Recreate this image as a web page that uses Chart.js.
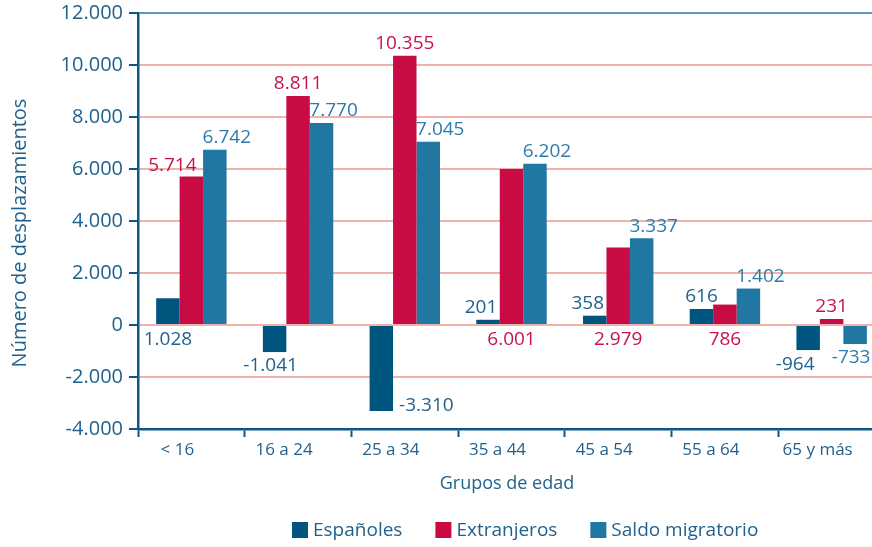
<!DOCTYPE html>
<html>
<head>
<meta charset="utf-8">
<script src="https://cdn.jsdelivr.net/npm/chart.js@4.4.0/dist/chart.umd.min.js"></script>
<style>
    html, body { margin: 0; padding: 0; overflow: hidden; background: #fff; }
    #wrap { position: relative; width: 900px; height: 547px; }
</style>
</head>
<body>
<div id="wrap"><canvas id="chart" width="900" height="547"></canvas></div>
<script>
const categories = ['< 16', '16 a 24', '25 a 34', '35 a 44', '45 a 54', '55 a 64', '65 y más'];
const espanoles = [1028, -1041, -3310, 201, 358, 616, -964];
const extranjeros = [5714, 8811, 10355, 6001, 2979, 786, 231];
const saldo = [6742, 7770, 7045, 6202, 3337, 1402, -733];
const seriesNames = ['Españoles', 'Extranjeros', 'Saldo migratorio'];
const yMin = -4000, yMax = 12000, yStep = 2000;

// where each value label sits relative to its bar
const labelPlace = [
    ['zero', 'below', 'right', 'aboveL', 'aboveL', 'above', 'belowL'],
    ['aboveLL', 'above', 'above', 'zero', 'zero', 'zero', 'above'],
    ['aboveR', 'aboveR', 'aboveR', 'aboveR', 'aboveR', 'aboveR', 'below'],
];

const FONT = "'Open Sans', sans-serif";
const axisBlue = '#0c5883';
const textBlue = '#21628d';
const barColors = ['#00557f', '#c80b43', '#1f77a2'];
const labelColors = ['#22628e', '#c8134a', '#2b7cab'];

function fmt(v) {
    const s = Math.abs(v).toString().replace(/\B(?=(\d{3})+(?!\d))/g, '.');
    return (v < 0 ? '-' : '') + s;
}

const decorPlugin = {
    id: 'decor',
    afterDatasetsDraw(chart) {
        const ctx = chart.ctx;
        const zeroY = chart.scales.y.getPixelForValue(0);
        ctx.save();
        ctx.font = '19px ' + FONT;
        ctx.textBaseline = 'middle';
        chart.data.datasets.forEach((ds, di) => {
            const meta = chart.getDatasetMeta(di);
            ctx.fillStyle = labelColors[di];
            meta.data.forEach((bar, i) => {
                const v = ds.data[i];
                const top = Math.min(bar.y, bar.base);
                const bottom = Math.max(bar.y, bar.base);
                let x = bar.x, y, align = 'center';
                switch (labelPlace[di][i]) {
                    case 'above': y = top - 12; break;
                    case 'aboveL': x -= 7; y = top - 12; break;
                    case 'aboveLL': x -= 19; y = top - 11; break;
                    case 'aboveR': x += 12; y = top - 12; break;
                    case 'zero': y = zeroY + 15; break;
                    case 'below': x -= 4; y = bottom + 14; break;
                    case 'belowL': x -= 13; y = bottom + 15; break;
                    case 'right': x = bar.x + bar.width / 2 + 6; y = bottom - 5; align = 'left'; break;
                }
                ctx.textAlign = align;
                ctx.fillText(fmt(v), x, y);
            });
        });

        // axis titles
        ctx.fillStyle = textBlue;
        ctx.textAlign = 'center';
        ctx.font = '20px ' + FONT;
        ctx.save();
        ctx.translate(20, 233);
        ctx.rotate(-Math.PI / 2);
        ctx.fillText('Número de desplazamientos', 0, 0);
        ctx.restore();
        ctx.font = '18px ' + FONT;
        ctx.fillText('Grupos de edad', 507, 484);

        // legend
        ctx.font = '19px ' + FONT;
        ctx.textAlign = 'left';
        let lx = 292;
        const ly = 530;
        seriesNames.forEach((name, i) => {
            ctx.fillStyle = barColors[i];
            ctx.fillRect(lx, ly - 8, 16, 16);
            ctx.fillStyle = textBlue;
            ctx.fillText(name, lx + 21, ly + 1);
            lx += 21 + ctx.measureText(name).width + 33;
        });
        ctx.restore();
    }
};

new Chart(document.getElementById('chart'), {
    type: 'bar',
    data: {
        labels: categories,
        datasets: [espanoles, extranjeros, saldo].map((d, i) => ({
            label: seriesNames[i],
            data: d,
            backgroundColor: barColors[i],
            borderWidth: 0,
            categoryPercentage: 0.66,
            barPercentage: 1,
        })),
    },
    options: {
        responsive: false,
        devicePixelRatio: 1,
        animation: false,
        layout: { padding: { top: 13, right: 15, left: 0, bottom: 0 } },
        plugins: { legend: { display: false }, tooltip: { enabled: false } },
        scales: {
            x: {
                afterFit: (s) => { s.height = 118; s.paddingLeft = 0; s.paddingRight = 0; },
                grid: {
                    offset: true,
                    drawOnChartArea: false,
                    drawTicks: true,
                    tickLength: 8,
                    tickColor: axisBlue,
                    tickWidth: 2,
                },
                border: { color: axisBlue, width: 2.5 },
                ticks: {
                    color: textBlue,
                    font: { family: FONT, size: 17 },
                    padding: 3,
                    labelOffset: -14,
                    maxRotation: 0,
                },
            },
            y: {
                min: yMin,
                max: yMax,
                afterFit: (s) => { s.width = 138; s.paddingTop = 0; s.paddingBottom = 0; },
                grid: {
                    color: (c) => c.tick && c.tick.value === yMax ? '#5b97bf' : '#efb2ae',
                    lineWidth: 2,
                    drawTicks: true,
                    tickLength: 9,
                    tickColor: axisBlue,
                    tickWidth: 2,
                },
                border: { color: axisBlue, width: 2.5 },
                ticks: {
                    stepSize: yStep,
                    color: textBlue,
                    font: { family: FONT, size: 20 },
                    padding: 6,
                    callback: (v) => fmt(v),
                },
            },
        },
    },
    plugins: [decorPlugin],
});
</script>
</body>
</html>
